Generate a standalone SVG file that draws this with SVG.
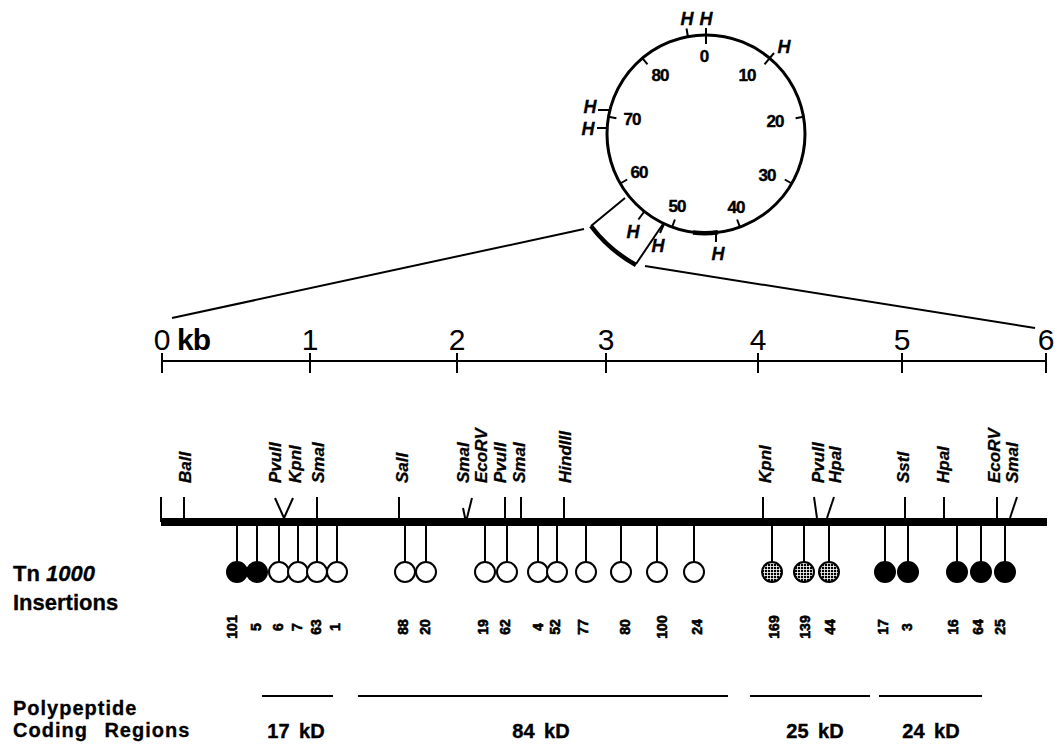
<svg xmlns="http://www.w3.org/2000/svg" width="1057" height="744" viewBox="0 0 1057 744">
<defs>
<pattern id="stip" width="3" height="3" patternUnits="userSpaceOnUse">
<rect width="3" height="3" fill="#000000"/>
<rect x="2.2" width="0.8" height="3" fill="#ffffff"/>
<rect y="2.2" width="3" height="0.8" fill="#ffffff"/>
</pattern>
<style>
.ln{stroke:#000;stroke-width:2;fill:none;stroke-linecap:butt}
.thk{stroke:#000;stroke-width:4.5;fill:none}
.f{font-family:"Liberation Sans",Arial,sans-serif;fill:#000}
.cl{font-size:17px;font-weight:bold;letter-spacing:-1px;text-anchor:middle;stroke:#000;stroke-width:0.4}
.h{font-size:18px;font-weight:bold;font-style:italic;text-anchor:middle;stroke:#000;stroke-width:0.3}
.sc{font-size:30px;text-anchor:middle}
.re{font-size:17px;font-weight:bold;font-style:italic;stroke:#000;stroke-width:0.3}
.num{font-size:14px;font-weight:bold;text-anchor:middle;stroke:#000;stroke-width:0.6}
.lab{font-size:22px;font-weight:bold;stroke:#000;stroke-width:0.3}
.kd{font-size:20px;font-weight:bold;text-anchor:middle;word-spacing:4px;stroke:#000;stroke-width:0.4}
.open{fill:#fff;stroke:#000;stroke-width:2}
.fill{fill:#000;stroke:#000;stroke-width:2}
.st{fill:url(#stip);stroke:#000;stroke-width:2}
</style>
</defs>
<rect width="1057" height="744" fill="#ffffff"/>

<g id="plasmid">
<circle cx="706" cy="134" r="99" fill="none" stroke="#000" stroke-width="3"/>
<path d="M693,232.5 A99,99 0 0 0 718,232.3" class="thk" stroke-width="5"/>
<g class="ln">
<line x1="706" y1="28" x2="706" y2="44"/>
<line x1="764.5" y1="64.3" x2="774" y2="53"/>
<line x1="803.5" y1="116.8" x2="795.6" y2="118.2"/>
<line x1="791.7" y1="183.5" x2="784.8" y2="179.5"/>
<line x1="739.9" y1="227" x2="737.1" y2="219.5"/>
<line x1="672.1" y1="227" x2="674.9" y2="219.5"/>
<line x1="620.3" y1="183.5" x2="627.2" y2="179.5"/>
<line x1="608.5" y1="116.8" x2="616.4" y2="118.2"/>
<line x1="642.4" y1="58.2" x2="647.5" y2="64.3"/>
<line x1="688" y1="37" x2="686.5" y2="28.5"/>
<line x1="598" y1="110" x2="610" y2="110"/>
<line x1="597" y1="128" x2="607.5" y2="128"/>
<line x1="644" y1="212" x2="638.4" y2="219.5"/>
<line x1="664.2" y1="223.7" x2="660" y2="233"/>
<line x1="716" y1="233" x2="716" y2="242"/>
</g>
<g class="f cl">
<text x="704" y="62">0</text>
<text x="747" y="81">10</text>
<text x="775" y="127">20</text>
<text x="767" y="181">30</text>
<text x="736" y="213">40</text>
<text x="677" y="212">50</text>
<text x="639" y="178">60</text>
<text x="632" y="125">70</text>
<text x="660" y="81">80</text>
</g>
<g class="f h">
<text x="687" y="25">H</text>
<text x="706" y="25">H</text>
<text x="784" y="53">H</text>
<text x="590" y="113">H</text>
<text x="588" y="135">H</text>
<text x="633" y="238">H</text>
<text x="658" y="252">H</text>
<text x="718" y="260">H</text>
</g>
</g>

<g id="expanded-segment">
<path d="M625,198 L591,226" class="ln" stroke-width="1.8"/>
<path d="M591,226 Q609,250 636,265" class="thk"/>
<path d="M636,264 L663,224" class="ln" stroke-width="1.5"/>
</g>

<g id="connectors">
<line x1="584" y1="229" x2="172" y2="318" class="ln"/>
<line x1="645" y1="266" x2="1035" y2="328" class="ln"/>
</g>

<g id="scale">
<line x1="162" y1="361" x2="1046" y2="361" class="ln"/>
<g class="ln" stroke-width="2.5">
<line x1="162" y1="353" x2="162" y2="373"/>
<line x1="310" y1="353" x2="310" y2="373"/>
<line x1="457" y1="353" x2="457" y2="373"/>
<line x1="606" y1="353" x2="606" y2="373"/>
<line x1="758" y1="353" x2="758" y2="373"/>
<line x1="902" y1="353" x2="902" y2="373"/>
<line x1="1046" y1="353" x2="1046" y2="373"/>
</g>
<g class="f sc">
<text x="162" y="350">0</text>
<text x="310" y="350">1</text>
<text x="457" y="350">2</text>
<text x="606" y="350">3</text>
<text x="758" y="350">4</text>
<text x="902" y="350">5</text>
<text x="1046" y="350">6</text>
</g>
<text x="177" y="350" class="f" font-size="30" font-weight="bold" letter-spacing="-1">kb</text>
</g>

<g id="restriction-map">
<rect x="161" y="518" width="886" height="8" fill="#000"/>
<g class="ln">
<line x1="161" y1="497" x2="161" y2="522"/>
<line x1="184" y1="497" x2="184" y2="518"/>
<line x1="275" y1="498" x2="284" y2="518"/>
<line x1="293" y1="498" x2="284" y2="518"/>
<line x1="317" y1="497" x2="317" y2="518"/>
<line x1="399" y1="497" x2="399" y2="518"/>
<line x1="472" y1="498" x2="466" y2="522"/>
<line x1="463" y1="508" x2="466" y2="522"/>
<line x1="505" y1="497" x2="505" y2="518"/>
<line x1="521" y1="497" x2="521" y2="518"/>
<line x1="564" y1="497" x2="564" y2="518"/>
<line x1="763" y1="497" x2="763" y2="518"/>
<line x1="814" y1="497" x2="817" y2="518"/>
<line x1="834" y1="497" x2="827" y2="518"/>
<line x1="905" y1="497" x2="905" y2="518"/>
<line x1="944" y1="497" x2="944" y2="518"/>
<line x1="997" y1="497" x2="997" y2="518"/>
<line x1="1017" y1="497" x2="1010" y2="518"/>
</g>
<g class="f re">
<text transform="translate(191,483) rotate(-90)">BalI</text>
<text transform="translate(281,483) rotate(-90)">PvuII</text>
<text transform="translate(301,483) rotate(-90)">KpnI</text>
<text transform="translate(324,483) rotate(-90)">SmaI</text>
<text transform="translate(408,483) rotate(-90)">SalI</text>
<text transform="translate(469,483) rotate(-90)">SmaI</text>
<text transform="translate(487,483) rotate(-90)">EcoRV</text>
<text transform="translate(506,483) rotate(-90)">PvuII</text>
<text transform="translate(525,483) rotate(-90)">SmaI</text>
<text transform="translate(571,483) rotate(-90)">HindIII</text>
<text transform="translate(771,483) rotate(-90)">KpnI</text>
<text transform="translate(824,483) rotate(-90)">PvuII</text>
<text transform="translate(841,483) rotate(-90)">HpaI</text>
<text transform="translate(909,483) rotate(-90)">SstI</text>
<text transform="translate(949,483) rotate(-90)">HpaI</text>
<text transform="translate(1000,483) rotate(-90)">EcoRV</text>
<text transform="translate(1018,483) rotate(-90)">SmaI</text>
</g>
</g>

<g id="insertions">
<g class="ln">
<path d="M237,526V562M257,526V562M279,526V562M298,526V562M317,526V562M337,526V562M405,526V562M426,526V562M485,526V562M507,526V562M538,526V562M557,526V562M586,526V562M621,526V562M657,526V562M694,526V562M772,526V562M804,526V562M829,526V562M885,526V562M908,526V562M957,526V562M981,526V562M1005,526V562"/>
</g>
<circle cx="237" cy="572" r="10" class="fill"/>
<circle cx="257" cy="572" r="10" class="fill"/>
<circle cx="279" cy="572" r="10" class="open"/>
<circle cx="298" cy="572" r="10" class="open"/>
<circle cx="317" cy="572" r="10" class="open"/>
<circle cx="337" cy="572" r="10" class="open"/>
<circle cx="405" cy="572" r="10" class="open"/>
<circle cx="426" cy="572" r="10" class="open"/>
<circle cx="485" cy="572" r="10" class="open"/>
<circle cx="507" cy="572" r="10" class="open"/>
<circle cx="538" cy="572" r="10" class="open"/>
<circle cx="557" cy="572" r="10" class="open"/>
<circle cx="586" cy="572" r="10" class="open"/>
<circle cx="621" cy="572" r="10" class="open"/>
<circle cx="657" cy="572" r="10" class="open"/>
<circle cx="694" cy="572" r="10" class="open"/>
<circle cx="772" cy="572" r="10" class="st"/>
<circle cx="804" cy="572" r="10" class="st"/>
<circle cx="829" cy="572" r="10" class="st"/>
<circle cx="885" cy="572" r="10" class="fill"/>
<circle cx="908" cy="572" r="10" class="fill"/>
<circle cx="957" cy="572" r="10" class="fill"/>
<circle cx="981" cy="572" r="10" class="fill"/>
<circle cx="1005" cy="572" r="10" class="fill"/>
<g class="f num">
<text transform="translate(237,627) rotate(-90)">101</text>
<text transform="translate(261,627) rotate(-90)">5</text>
<text transform="translate(283,627) rotate(-90)">6</text>
<text transform="translate(302,627) rotate(-90)">7</text>
<text transform="translate(321,627) rotate(-90)">63</text>
<text transform="translate(340,627) rotate(-90)">1</text>
<text transform="translate(408,627) rotate(-90)">88</text>
<text transform="translate(430,627) rotate(-90)">20</text>
<text transform="translate(488,627) rotate(-90)">19</text>
<text transform="translate(510,627) rotate(-90)">62</text>
<text transform="translate(543,627) rotate(-90)">4</text>
<text transform="translate(560,627) rotate(-90)">52</text>
<text transform="translate(588,627) rotate(-90)">77</text>
<text transform="translate(630,627) rotate(-90)">80</text>
<text transform="translate(667,627) rotate(-90)">100</text>
<text transform="translate(702,627) rotate(-90)">24</text>
<text transform="translate(779,627) rotate(-90)">169</text>
<text transform="translate(810,627) rotate(-90)">139</text>
<text transform="translate(835,627) rotate(-90)">44</text>
<text transform="translate(888,627) rotate(-90)">17</text>
<text transform="translate(912,627) rotate(-90)">3</text>
<text transform="translate(958,627) rotate(-90)">16</text>
<text transform="translate(983,627) rotate(-90)">64</text>
<text transform="translate(1005,627) rotate(-90)">25</text>
</g>
</g>

<g id="left-labels" class="f lab">
<text x="13" y="581">Tn <tspan font-style="italic">1000</tspan></text>
<text x="13" y="610">Insertions</text>
<text x="13" y="715" font-size="20" letter-spacing="1">Polypeptide</text>
<text x="13" y="737" font-size="20" letter-spacing="1" word-spacing="10">Coding Regions</text>
</g>

<g id="coding-regions">
<g class="ln" stroke-width="2.5">
<line x1="262" y1="696" x2="333" y2="696"/>
<line x1="358" y1="696" x2="728" y2="696"/>
<line x1="750" y1="696" x2="870" y2="696"/>
<line x1="879" y1="696" x2="982" y2="696"/>
</g>
<g class="f kd">
<text x="296" y="738">17 kD</text>
<text x="541" y="738">84 kD</text>
<text x="815" y="738">25 kD</text>
<text x="931" y="738">24 kD</text>
</g>
</g>
</svg>
